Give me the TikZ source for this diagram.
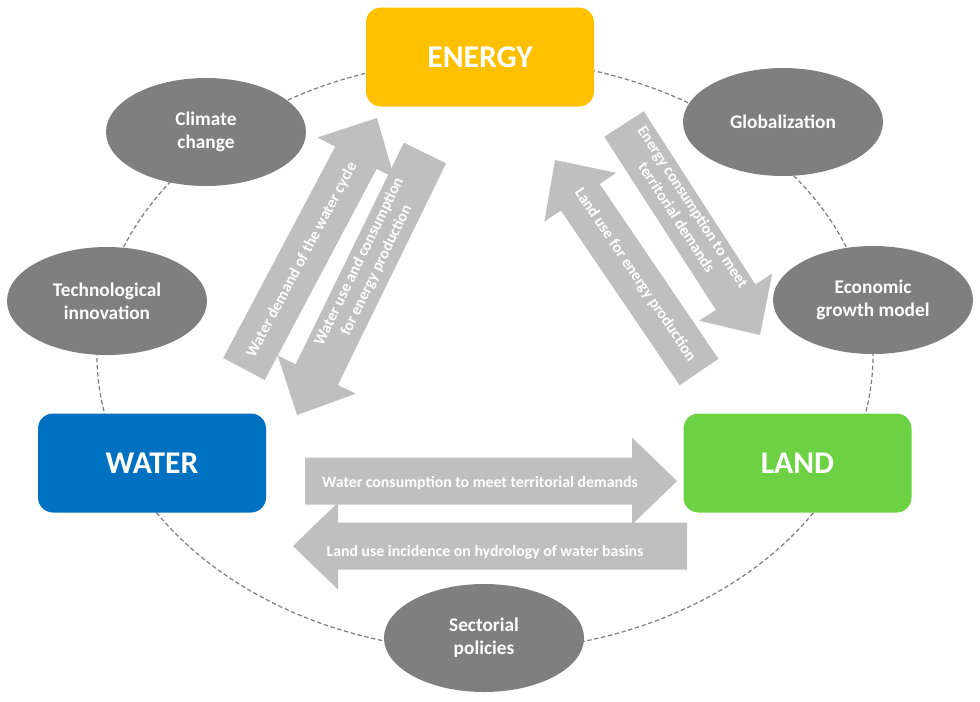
\documentclass[tikz,border=0pt]{standalone}
\usepackage{fontspec}
\setmainfont{Carlito}
\usepackage{tikz}
\usetikzlibrary{calc,shapes.geometric}

\definecolor{energyorange}{HTML}{FFC000}
\definecolor{waterblue}{HTML}{0070C0}
\definecolor{landgreen}{HTML}{6CD143}
\definecolor{factorgray}{HTML}{7F7F7F}
\definecolor{arrowgray}{HTML}{BFBFBF}

\tikzset{
  resource/.style={rounded corners=0.3cm, minimum width=4.56cm, minimum height=1.98cm,
    text=white, font=\fontsize{18}{20}\selectfont\bfseries},
  factor/.style={ellipse, fill=factorgray, minimum width=4cm, minimum height=2.16cm,
    text=white, align=center, font=\fontsize{11}{13}\selectfont\bfseries},
  flowtext/.style={text=white, align=center, inner sep=0pt, font=\fontsize{9}{11}\selectfont\bfseries}
}

% block arrow from tail #1 to tip #2
\newcommand{\bigarrow}[2]{%
  \coordinate (hb) at ($(#2)!0.9cm!(#1)$);
  \fill[arrowgray] ($(#1)!0.47cm!90:(#2)$) -- ($(hb)!0.47cm!90:(#2)$) -- ($(hb)!0.87cm!90:(#2)$)
    -- (#2) -- ($(hb)!0.87cm!-90:(#2)$) -- ($(hb)!0.47cm!-90:(#2)$) -- ($(#1)!0.47cm!-90:(#2)$) -- cycle;}

\begin{document}
\begin{tikzpicture}
    \useasboundingbox (0,0) rectangle (19.6,-14.02);

    % nexus ring
    \draw[factorgray, line width=0.7pt, dash pattern=on 2.5pt off 1.5pt] (9.7,-7.1) ellipse (7.76cm and 5.92cm);

    % resources
    \node[resource, fill=energyorange] (energy) at (9.6,-1.14) {ENERGY};
    \node[resource, fill=waterblue] (water) at (3.04,-9.26) {WATER};
    \node[resource, fill=landgreen] (land) at (15.95,-9.26) {LAND};

    % driving factors
    \node[factor] (climate) at (4.12,-2.64) {Climate\\change};
    \node[factor] (techno) at (2.14,-6.02) {Technological\\innovation};
    \node[factor] (global) at (15.66,-2.44) {Globalization};
    \node[factor] (econ) at (17.46,-6.0) {Economic\\growth model};
    \node[factor] (policy) at (9.68,-12.76) {Sectorial\\policies};

    % arrow ends
    \coordinate (wdtail) at (4.88,-7.38);
    \coordinate (wdtip) at (7.54,-2.36);
    \coordinate (wutail) at (8.5,-3.06);
    \coordinate (wutip) at (5.94,-8.3);
    \coordinate (ectail) at (12.48,-2.48);
    \coordinate (ectip) at (15.2,-6.7);
    \coordinate (lutail) at (13.98,-7.44);
    \coordinate (lutip) at (11.1,-3.2);
    \coordinate (wctail) at (6.1,-9.62);
    \coordinate (wctip) at (13.54,-9.62);
    \coordinate (litail) at (13.74,-10.92);
    \coordinate (litip) at (5.86,-10.92);

    \bigarrow{wdtail}{wdtip}
    \bigarrow{wutail}{wutip}
    \bigarrow{ectail}{ectip}
    \bigarrow{lutail}{lutip}
    \bigarrow{wctail}{wctip}
    \bigarrow{litail}{litip}

    \node[flowtext, rotate=62] (wdtext) at (6.04,-5.2) {Water demand of the water cycle};
    \node[flowtext, rotate=64] (wutext) at (7.36,-5.32) {Water use and consumption\\for energy production};
    \node[flowtext, rotate=-57] (ectext) at (13.7,-4.24) {Energy consumption to meet\\territorial demands};
    \node[flowtext, rotate=-56] (lutext) at (12.7,-5.5) {Land use for energy production};
    \node[flowtext] (wctext) at (9.6,-9.66) {Water consumption to meet territorial demands};
    \node[flowtext] (litext) at (9.7,-11.04) {Land use incidence on hydrology of water basins};
\end{tikzpicture}
\end{document}
